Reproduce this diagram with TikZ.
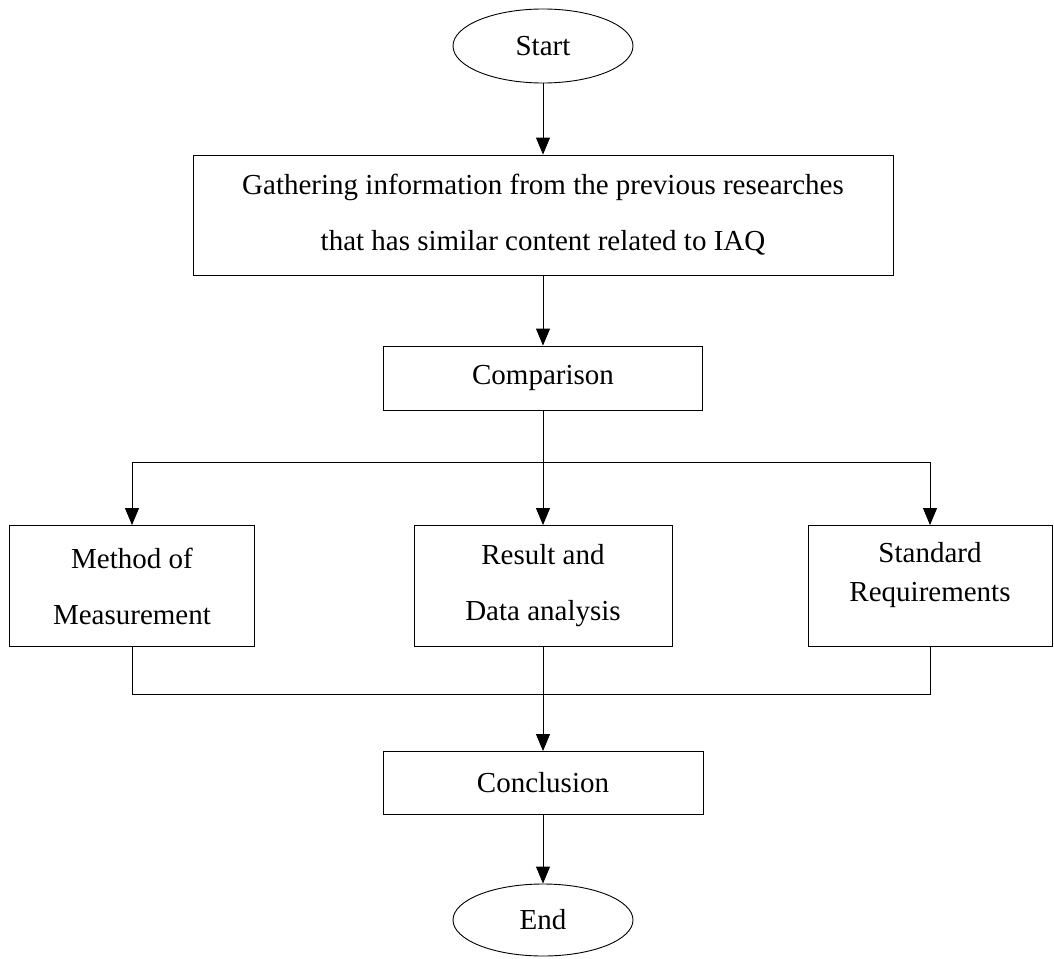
\documentclass[tikz,border=0pt]{standalone}
\usepackage{fontspec}
\setmainfont{Liberation Serif}
\usepackage{tikz}
\usetikzlibrary{shapes.geometric, arrows.meta, positioning}

\tikzset{
  terminal/.style={ellipse, draw, line width=0.9pt, minimum width=180pt, minimum height=74pt, inner sep=0pt},
  process/.style={rectangle, draw, line width=0.9pt, align=center, inner sep=0pt},
}

\begin{document}
\begin{tikzpicture}[x=1pt, y=1pt, on grid, >={Triangle[width=14pt,length=17pt]},
    line width=0.9pt, font=\fontsize{29}{56}\selectfont]
        \useasboundingbox (0,0) rectangle (1054,-958);

        \node[terminal] (start) at (543,-46) {Start};
        \node[process, minimum width=700pt, minimum height=120pt] (gather) [below=169pt of start]
            {Gathering information from the previous researches\\that has similar content related to IAQ};
        \node[process, minimum width=319pt, minimum height=64pt] (compare) [below=163pt of gather] {Comparison};
        \coordinate[below=84pt of compare] (split);
        \node[process, minimum width=258pt, minimum height=121pt] (result) [below=208pt of compare]
            {Result and\\Data analysis};
        \node[process, minimum width=245pt, minimum height=121pt] (method) [left=411pt of result]
            {Method of\\Measurement};
        \node[process, minimum width=244pt, minimum height=121pt, text depth=28pt,
            font=\fontsize{29}{39}\selectfont] (standard) [right=387pt of result]
            {Standard\\Requirements};
        \coordinate[below=108pt of result] (merge);
        \node[process, minimum width=320pt, minimum height=63pt] (conclude) [below=197pt of result] {Conclusion};
        \node[terminal, minimum height=72pt] (end) [below=137pt of conclude] {End};

        \draw[->] (start) -- (gather);
        \draw[->] (gather) -- (compare);
        \draw (compare) -- (split);
        \draw[->] (split) -- (result);
        \draw[->] (split) -| (method);
        \draw[->] (split) -| (standard);
        \draw (method) |- (merge);
        \draw (standard) |- (merge);
        \draw (result) -- (merge);
        \draw[->] (merge) -- (conclude);
        \draw[->] (conclude) -- (end);

    \end{tikzpicture}
\end{document}
